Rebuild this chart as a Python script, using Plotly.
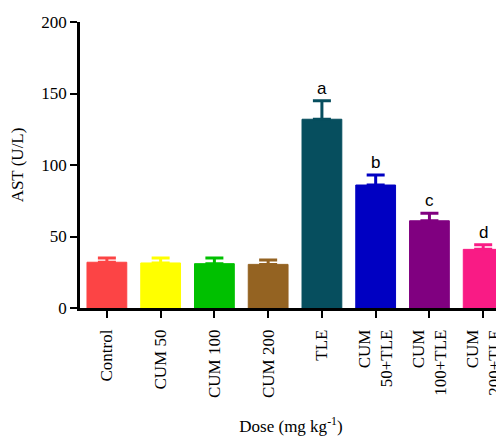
import plotly.graph_objects as go

categories = ["Control", "CUM 50", "CUM 100", "CUM 200", "TLE",
              "CUM<br>50+TLE", "CUM<br>100+TLE", "CUM<br>200+TLE"]
means = [32, 31.5, 31, 30.5, 132, 86, 61, 41]
sem = [3, 3.5, 4, 3, 13, 7, 5.2, 3.3]
letters = ["", "", "", "", "a", "b", "c", "d"]
colors = ["#FC4445", "#FFFF00", "#00C000", "#946322", "#064E5E",
          "#0000C2", "#800080", "#F91B85"]

fig = go.Figure()
fig.add_trace(go.Bar(
    x=list(range(len(categories))), y=means,
    marker=dict(color=colors, line=dict(color=colors, width=1)),
    width=0.74,
    showlegend=False,
))
for i, (m, s, c) in enumerate(zip(means, sem, colors)):
    fig.add_trace(go.Scatter(
        x=[i], y=[m], mode="markers", marker=dict(size=1, color=c, opacity=0),
        error_y=dict(type="data", array=[s], arrayminus=[0], symmetric=False,
                     color=c, thickness=3, width=9),
        showlegend=False, hoverinfo="skip"))

for i, (m, s, t) in enumerate(zip(means, sem, letters)):
    if t:
        fig.add_annotation(x=i, y=m + s, text=t, showarrow=False, yanchor="bottom",
                           yshift=1, font=dict(family="Liberation Sans, Arial", size=17, color="black"))

fig.update_layout(
    width=496, height=429,
    margin=dict(l=72, r=0, t=14, b=129),
    plot_bgcolor="white", paper_bgcolor="white",
    font=dict(family="Liberation Serif, Times New Roman", size=17, color="black"),
)
fig.update_xaxes(
    tickmode="array", tickvals=list(range(len(categories))), ticktext=categories,
    range=[-0.5, 7.35], tickangle=-90, ticklabeloverflow="allow",
    ticklabelstandoff=5,
    showline=True, linecolor="black", linewidth=2.5,
    ticks="outside", ticklen=7, tickwidth=2, tickcolor="black",
    showgrid=False, zeroline=False,
    title=dict(text="Dose (mg kg<sup>-1</sup>)", font=dict(size=17), standoff=24),
    tickfont=dict(size=17),
)
fig.update_yaxes(
    range=[0, 200], tickvals=[0, 50, 100, 150, 200],
    showline=True, linecolor="black", linewidth=2.5,
    ticks="outside", ticklen=7, tickwidth=2, tickcolor="black",
    showgrid=False, zeroline=False,
    title=dict(text="AST (U/L)", font=dict(size=17), standoff=14),
    tickfont=dict(size=17),
)

fig.write_html("out.html")
